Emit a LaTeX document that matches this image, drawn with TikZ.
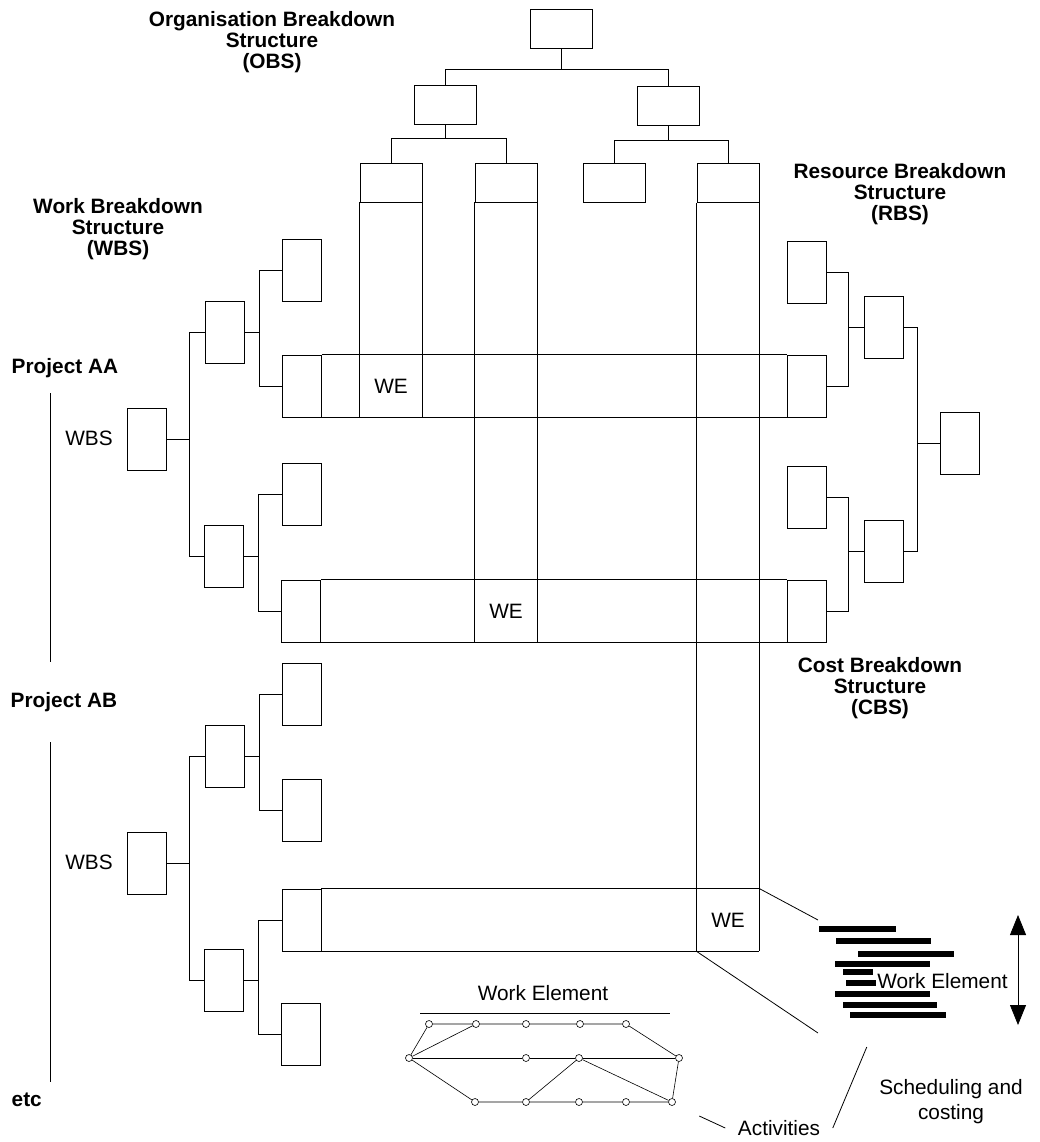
\documentclass[tikz,border=0pt]{standalone}
\usepackage{fontspec}
\setmainfont{Liberation Sans}
\usetikzlibrary{arrows.meta}

\begin{document}
\begin{tikzpicture}[x=1pt, y=-1pt, line width=0.8pt,
  font=\fontsize{20.8}{21}\selectfont,
  wbox/.style={draw, minimum width=39pt, minimum height=62pt, inner sep=0pt},
  obox/.style={draw, minimum width=62pt, minimum height=39pt, inner sep=0pt},
  ttl/.style={font=\fontsize{20.8}{21}\selectfont\bfseries, align=center},
  ev/.style={draw, circle, fill=white, minimum size=7pt, inner sep=0pt, line width=0.6pt},
  bar/.style={line width=6pt}]
\useasboundingbox (0,0) rectangle (1039,1142);

% Titulos
\node[ttl] (tobs) at (272,42) {Organisation Breakdown\\Structure\\(OBS)};
\node[ttl] (twbs) at (118,229) {Work Breakdown\\Structure\\(WBS)};
\node[ttl] (trbs) at (900,194) {Resource Breakdown\\Structure\\(RBS)};
\node[ttl] (tcbs) at (880,688) {Cost Breakdown\\Structure\\(CBS)};

% Proyectos
\node[ttl, anchor=west] (pa) at (8,368) {Project AA};
\node[ttl, anchor=west] (pb) at (7,702) {Project AB};
\node[ttl, anchor=west] (pc) at (8,1100) {etc};
\coordinate (la1) at (50,393);
\coordinate (la2) at (50,662);
\coordinate (lb1) at (50,742);
\coordinate (lb2) at (50,1082);
\draw (la1) -- (la2);
\draw (lb1) -- (lb2);
\node (wla) at (89,438) {WBS};
\node (wlb) at (89,862) {WBS};

% OBS
\node[obox] (o0) at (561,28.5) {};
\node[obox] (o1) at (445,105) {};
\node[obox] (o2) at (668,106) {};
\node[obox] (o3) at (391,182.5) {};
\node[obox] (o4) at (506,182.5) {};
\node[obox] (o5) at (614,183) {};
\node[obox] (o6) at (728,183) {};
\draw (o0.south) -- ++(0,21.5) -| (o1.north);
\draw (o0.south) ++(0,21.5) -| (o2.north);
\draw (o1.south) -- ++(0,14) -| (o3.north);
\draw (o1.south) ++(0,14) -| (o4.north);
\draw (o2.south) -- ++(0,15) -| (o5.north);
\draw (o2.south) ++(0,15) -| (o6.north);

% WBS Project AA
\node[wbox] (wa) at (147,439) {};
\node[wbox] (wa1) at (224.5,332) {};
\node[wbox] (wa2) at (223.5,556) {};
\node[wbox] (wa11) at (302,270) {};
\node[wbox] (wa12) at (302,386) {};
\node[wbox] (wa21) at (301.5,494) {};
\node[wbox] (wa22) at (301,611) {};
\draw (wa.east) -- ++(22.5,0) |- (wa1.west);
\draw (wa.east) ++(22.5,0) |- (wa2.west);
\draw (wa1.east) -- ++(14.5,0) |- (wa11.west);
\draw (wa1.east) ++(14.5,0) |- (wa12.west);
\draw (wa2.east) -- ++(15,0) |- (wa21.west);
\draw (wa2.east) ++(15,0) |- (wa22.west);

% WBS Project AB
\node[wbox] (wb) at (147,863) {};
\node[wbox] (wb1) at (224.5,756) {};
\node[wbox] (wb2) at (223.5,980) {};
\node[wbox] (wb11) at (302,694) {};
\node[wbox] (wb12) at (302,810) {};
\node[wbox] (wb21) at (301.5,920) {};
\node[wbox] (wb22) at (301,1034) {};
\draw (wb.east) -- ++(22.5,0) |- (wb1.west);
\draw (wb.east) ++(22.5,0) |- (wb2.west);
\draw (wb1.east) -- ++(14.5,0) |- (wb11.west);
\draw (wb1.east) ++(14.5,0) |- (wb12.west);
\draw (wb2.east) -- ++(15,0) |- (wb21.west);
\draw (wb2.east) ++(15,0) |- (wb22.west);

% RBS
\node[wbox] (ra) at (806.5,272.5) {};
\node[wbox] (rb) at (806.5,386) {};
\node[wbox] (rc) at (806.5,497) {};
\node[wbox] (rd) at (806.5,611) {};
\node[wbox] (rm1) at (883.5,327) {};
\node[wbox] (rm2) at (883.5,551) {};
\node[wbox] (rr) at (959.5,443) {};
\draw (ra.east) -- ++(22,0) |- (rb.east);
\draw (rc.east) -- ++(22,0) |- (rd.east);
\draw (rm1.west) -- ++(-16,0);
\draw (rm2.west) -- ++(-16,0);
\draw (rm1.east) -- ++(14,0) |- (rr.west);
\draw (rm2.east) -- ++(14,0) |- (rr.west);

% Columnas OBS
\draw (o3.south west) -- (o3.south west |- wa12.south);
\draw (o3.south east) -- (o3.south east |- wa12.south);
\draw (o4.south west) -- (o4.south west |- wa22.south);
\draw (o4.south east) -- (o4.south east |- wa22.south);
\draw (o6.south west) -- (o6.south west |- wb21.south);
\draw (o6.south east) -- (o6.south east |- wb21.south);

% Filas WBS-RBS
\draw (wa12.north east) -- (rb.north west);
\draw (wa12.south east) -- (rb.south west);
\draw (wa22.north east) -- (rd.north west);
\draw (wa22.south east) -- (rd.south west);
\draw (wb21.north east) -- (wb21.north east -| o6.east);
\draw (wb21.south east) -- (wb21.south east -| o6.east);
\node (we1) at (o3 |- wa12) {WE};
\node (we2) at (o4 |- wa22) {WE};
\node (we3) at (o6 |- wb21) {WE};

% Programacion
\coordinate (g1) at (818,920);
\coordinate (g2) at (818,1033);
\draw (o6.east |- wb21.north) -- (g1);
\draw (o6.west |- wb21.south) -- (g2);
\draw[bar] (819,929) -- (896,929);
\draw[bar] (836,941) -- (931,941);
\draw[bar] (858,954) -- (954,954);
\draw[bar] (835,964) -- (930,964);
\draw[bar] (843,972) -- (873,972);
\draw[bar] (846,983) -- (876,983);
\draw[bar] (835,994) -- (930,994);
\draw[bar] (843,1005) -- (937,1005);
\draw[bar] (850,1015) -- (946,1015);
\node[anchor=west, inner sep=1pt] (gwe) at (876,981) {Work Element};
\coordinate (at) at (1018,915);
\coordinate (ab) at (1018,1025);
\draw[{Triangle[width=16pt,length=20pt]}-{Triangle[width=16pt,length=20pt]}] (at) -- (ab);
\node[align=center, font=\fontsize{20.8}{25}\selectfont] (sc) at (951,1102) {Scheduling and\\costing};
\node (act) at (779,1128) {Activities};
\draw ([xshift=-9pt]act.west) -- ++(-26,-12);
\draw ([xshift=9pt]act.east) -- ++(34,-81);

% Red de actividades
\node (nwe) at (543,993) {Work Element};
\draw (420,1013) -- (670,1013);
\node[ev] (ns) at (409,1058) {};
\node[ev] (t1) at (429,1024) {};
\node[ev] (t2) at (476,1024) {};
\node[ev] (t3) at (526,1024) {};
\node[ev] (t4) at (580,1024) {};
\node[ev] (t5) at (626,1024) {};
\node[ev] (m2) at (526,1058) {};
\node[ev] (m3) at (579,1058) {};
\node[ev] (ne) at (679,1058) {};
\node[ev] (b1) at (475,1102) {};
\node[ev] (b2) at (526,1102) {};
\node[ev] (b3) at (579,1102) {};
\node[ev] (b4) at (626,1102) {};
\node[ev] (b5) at (672,1102) {};
\draw[line width=0.6pt] (ns) -- (t1) -- (t2) -- (t3) -- (t4) -- (t5) -- (ne) -- (b5);
\draw[line width=0.6pt] (ns) -- (t2);
\draw[line width=0.6pt] (ns) -- (m2) -- (m3) -- (ne);
\draw[line width=0.6pt] (ns) -- (b1) -- (b2) -- (b3) -- (b4) -- (b5);
\draw[line width=0.6pt] (b2) -- (m3) -- (b5);
\end{tikzpicture}
\end{document}
